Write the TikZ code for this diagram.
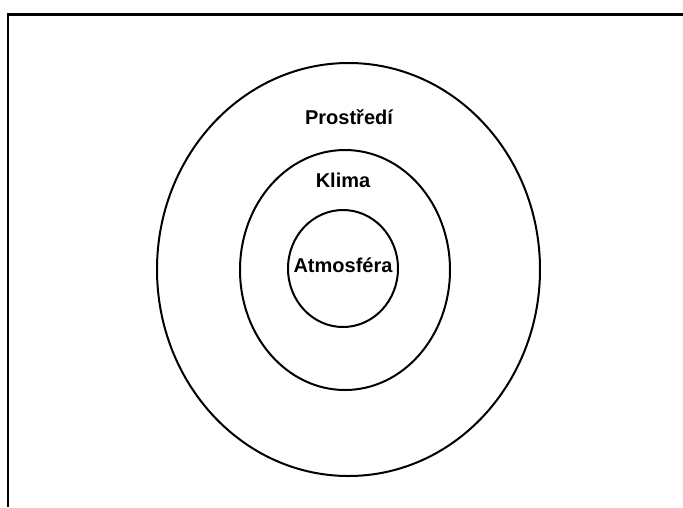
\documentclass[tikz,border=0pt]{standalone}
\usepackage{fontspec}
\setmainfont{Liberation Sans}
\usetikzlibrary{shapes.geometric}
\begin{document}
\begin{tikzpicture}[x=1pt,y=-1pt,
  ring/.style={draw=black,line width=2pt,ellipse,inner sep=0pt,outer sep=0pt},
  lbl/.style={font=\fontsize{20}{22}\selectfont\bfseries,inner sep=0pt}]
\useasboundingbox[fill=white] (0,0) rectangle (683,507);
\coordinate (fa) at (8,507);
\coordinate (fb) at (8,14.5);
\coordinate (fc) at (683,14.5);
\draw[line width=2.5pt] (fa) -- (fb) -- (fc);
\node[ring,minimum width=383pt,minimum height=413pt] (outer) at (348.5,269.5) {};
\node[ring,minimum width=210pt,minimum height=240pt] (middle) at (345,270) {};
\node[ring,minimum width=110pt,minimum height=117pt] (inner) at (343,268.5) {};
\node[lbl] (t1) at (349,117) {Prostředí};
\node[lbl] (t2) at (343,180) {Klima};
\node[lbl] (t3) at (343,265) {Atmosféra};
\end{tikzpicture}
\end{document}
